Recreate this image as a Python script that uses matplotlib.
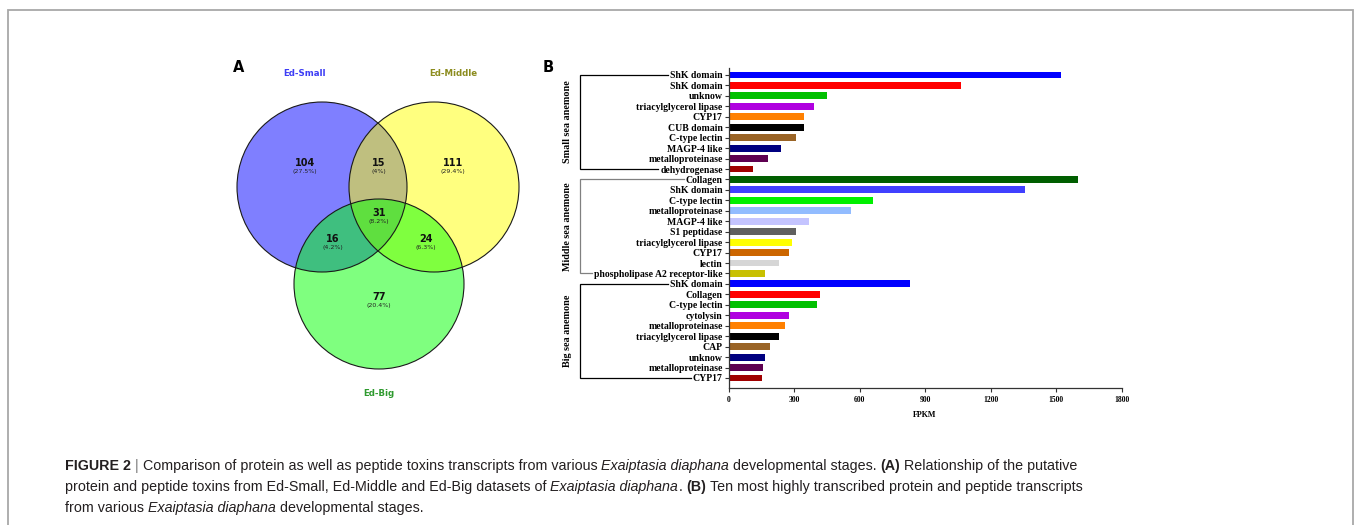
import matplotlib
matplotlib.use("Agg")
import numpy as np
import matplotlib.pyplot as plt
from matplotlib.patches import Circle

# ---------------- data ----------------
venn_sets = ["Ed-Small", "Ed-Middle", "Ed-Big"]
venn_set_colors = ["#3d3df5", "#8c8c1e", "#2e9a2e"]
# region counts: S only, M only, B only, S&M, S&B, M&B, S&M&B
venn_regions = ["S", "M", "B", "SM", "SB", "MB", "SMB"]
venn_counts = [104, 111, 77, 15, 16, 24, 31]

small_names = ["ShK domain", "ShK domain", "unknow", "triacylglycerol lipase", "CYP17",
               "CUB domain", "C-type lectin", "MAGP-4 like", "metalloproteinase", "dehydrogenase"]
small_fpkm = [1522, 1063, 450, 390, 345, 344, 307, 240, 182, 113]

middle_names = ["Collagen", "ShK domain", "C-type lectin", "metalloproteinase", "MAGP-4 like",
                "S1 peptidase", "triacylglycerol lipase", "CYP17", "lectin",
                "phospholipase A2 receptor-like"]
middle_fpkm = [1601, 1356, 661, 560, 367, 309, 290, 278, 231, 167]

big_names = ["ShK domain", "Collagen", "C-type lectin", "cytolysin", "metalloproteinase",
             "triacylglycerol lipase", "CAP", "unknow", "metalloproteinase", "CYP17"]
big_fpkm = [830, 419, 405, 278, 258, 230, 188, 168, 156, 152]

group_titles = ["Small sea anemone", "Middle sea anemone", "Big sea anemone"]
x_ticks = [0, 300, 600, 900, 1200, 1500, 1800]

# ---------------- styles ----------------
small_colors = ["#0000ff", "#ff0000", "#00c000", "#b000e0", "#ff8000",
                "#000000", "#9a6426", "#000080", "#5e0050", "#a00000"]
middle_colors = ["#005e00", "#4040ff", "#00f000", "#92bcff", "#c4c4ff",
                 "#606060", "#ffff00", "#cc6600", "#d6d6d6", "#c8c000"]
big_colors = small_colors
bracket_colors = ["#000000", "#808080", "#000000"]

W, H = 1354, 525
fig = plt.figure(figsize=(W / 100, H / 100), dpi=100)
fig.patch.set_facecolor("white")

# full-figure canvas in pixel units (y grows downward)
base = fig.add_axes([0, 0, 1, 1])
base.set_xlim(0, W)
base.set_ylim(H, 0)
base.axis("off")

# panel frame
base.plot([8, 8, 1353, 1353], [H + 5, 10, 10, H + 5], color="#a8a8a8", lw=1.3,
          clip_on=False, solid_joinstyle="miter")

# ---------------- panel A: Venn diagram ----------------
r = 85
centers = {"S": (322, 187), "M": (434, 187), "B": (379, 284)}
fills = {"S": "#0000ff", "M": "#ffff00", "B": "#00ff00"}
for key in ["S", "M", "B"]:
    base.add_patch(Circle(centers[key], r, facecolor=fills[key], alpha=0.5,
                          edgecolor="none", zorder=2))
for key in ["S", "M", "B"]:
    base.add_patch(Circle(centers[key], r, facecolor="none", edgecolor="#1a1a1a",
                          lw=0.8, zorder=3))

venn_font = "DejaVu Sans"
region_pos = {"S": (305, 163), "M": (453, 163), "B": (379, 297),
              "SM": (379, 163), "SB": (333, 239), "MB": (426, 239), "SMB": (379, 213)}
total = sum(venn_counts)
for reg, cnt in zip(venn_regions, venn_counts):
    x, y = region_pos[reg]
    pct = f"{100 * cnt / total:.1f}"
    if pct.endswith(".0"):
        pct = pct[:-2]
    base.text(x, y, str(cnt), ha="center", va="center", fontsize=7.0, fontfamily=venn_font,
              fontweight="bold", color="#111111", zorder=5)
    base.text(x, y + 8.5, f"({pct}%)", ha="center", va="center", fontsize=4.5,
              fontfamily=venn_font, color="#222222", zorder=5)

set_label_pos = [(305, 74), (453, 74), (379, 394)]
for name, col, (x, y) in zip(venn_sets, venn_set_colors, set_label_pos):
    base.text(x, y, name, ha="center", va="center", fontsize=6.2, fontfamily=venn_font,
              fontweight="bold", color=col)

base.text(239, 67, "A", ha="center", va="center", fontsize=10.5, fontweight="bold")
base.text(548, 68, "B", ha="center", va="center", fontsize=10.5, fontweight="bold")

# ---------------- panel B: bar chart ----------------
names = small_names + middle_names + big_names
values = small_fpkm + middle_fpkm + big_fpkm
colors = small_colors + middle_colors + big_colors
rows = np.arange(len(names))

serif = "Liberation Serif"
ax = fig.add_axes([728.5 / W, 1 - 388 / H, 393.2 / W, 320 / H])
ax.barh(rows, values, height=0.66, color=colors, edgecolor="none")
ax.set_xlim(0, 1800)
ax.set_ylim(len(names) - 0.04, -0.67)
ax.set_xticks(x_ticks)
ax.set_xticklabels([str(t) for t in x_ticks], fontfamily=serif, fontweight="bold", fontsize=5.5)
ax.set_yticks(rows)
ax.set_yticklabels(names, fontfamily=serif, fontweight="bold", fontsize=7.0)
for s in ["top", "right"]:
    ax.spines[s].set_visible(False)
for s in ["left", "bottom"]:
    ax.spines[s].set_linewidth(0.9)
    ax.spines[s].set_color("#333333")
ax.tick_params(axis="y", length=3.2, width=0.8, pad=1, color="#333333")
ax.tick_params(axis="x", length=3, width=0.8, pad=3, color="#333333")
ax.set_xlabel("FPKM", fontfamily=serif, fontweight="bold", fontsize=5.8, labelpad=5)

# group brackets on the left of the category labels
fig.canvas.draw()
rend = fig.canvas.get_renderer()
labels = ax.get_yticklabels()


def row_px(i):
    return H - ax.transData.transform((0, i))[1]


def label_left(i):
    return labels[i].get_window_extent(rend).x0


bx = 580
for g, (title, col) in enumerate(zip(group_titles, bracket_colors)):
    i0, i1 = g * 10, g * 10 + 9
    y0, y1 = row_px(i0), row_px(i1)
    base.plot([label_left(i0) - 2, bx, bx, label_left(i1) - 2], [y0, y0, y1, y1],
              color=col, lw=0.9, solid_joinstyle="miter")
    base.text(567, (y0 + y1) / 2, title, rotation=90, ha="center", va="center",
              fontfamily=serif, fontweight="bold", fontsize=7.3)

# ---------------- caption ----------------
cap_font = "Liberation Sans"
cap_size = 10.3
cap_color = "#231f20"
caption = [
    [("FIGURE 2", "b"), (" | ", "bar"), ("Comparison of protein as well as peptide toxins transcripts from various ", "n"),
     ("Exaiptasia diaphana", "i"), (" developmental stages. ", "n"), ("(A)", "b"),
     (" Relationship of the putative", "n")],
    [("protein and peptide toxins from Ed-Small, Ed-Middle and Ed-Big datasets of ", "n"),
     ("Exaiptasia diaphana", "i"), (". ", "n"), ("(B)", "b"),
     (" Ten most highly transcribed protein and peptide transcripts", "n")],
    [("from various ", "n"), ("Exaiptasia diaphana", "i"), (" developmental stages.", "n")],
]


def text_width(s, **kw):
    t = base.text(0, 0, s, fontfamily=cap_font, fontsize=cap_size, **kw)
    w = t.get_window_extent(rend).width
    t.remove()
    return w


space_w = text_width("a a") - text_width("aa")
line_y = [466, 487, 508]
for line, y in zip(caption, line_y):
    x = 65
    for txt, style in line:
        kw = {}
        col = cap_color
        if style == "b":
            kw["fontweight"] = "bold"
        elif style == "i":
            kw["fontstyle"] = "italic"
        elif style == "bar":
            col = "#777777"
        lead = len(txt) - len(txt.lstrip(" "))
        trail = len(txt) - len(txt.rstrip(" "))
        core = txt.strip(" ")
        x += lead * space_w
        t = base.text(x, y, core, ha="left", va="center", fontfamily=cap_font,
                      fontsize=cap_size, color=col, **kw)
        x += t.get_window_extent(rend).width + trail * space_w

fig.savefig("out.png", dpi=100, facecolor="white")
